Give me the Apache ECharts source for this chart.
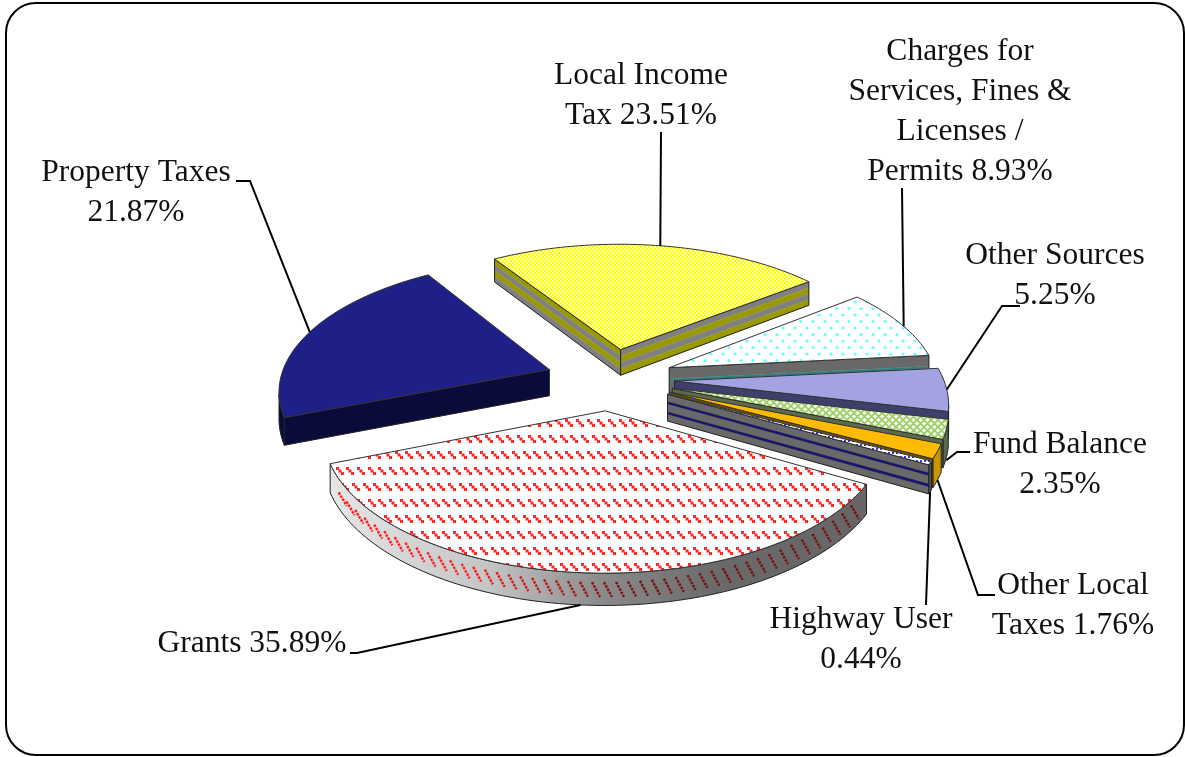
<!DOCTYPE html>
<html>
<head>
<meta charset="utf-8">
<style>html,body{margin:0;padding:0;background:#fff}#chart{width:1185px;height:757px}</style>
<script src="https://cdn.jsdelivr.net/npm/echarts@6/dist/echarts.min.js"></script>
</head>
<body>
<div id="chart"></div>
<script>
// Revenue shares, listed clockwise from Local Income Tax.
const sliceNames = ['Local Income Tax', 'Charges for Services, Fines & Licenses / Permits', 'Other Sources',
  'Fund Balance', 'Other Local Taxes', 'Highway User', 'Grants', 'Property Taxes'];
const sliceValues = [23.51, 8.93, 5.25, 2.35, 1.76, 0.44, 35.89, 21.87];
// Label wording ahead of each percentage; a newline breaks the line.
const labelPrefixes = ['Local Income\nTax ', 'Charges for\nServices, Fines &\nLicenses /\nPermits ', 'Other Sources\n',
  'Fund Balance\n', 'Other Local\nTaxes ', 'Highway User\n', 'Grants ', 'Property Taxes\n'];

// Tilted-disc projection
const view = { cx: 610, cy: 379, a: 269, b: 128.5, k: 0.145, explode: 0.24, depth: 26.5, startAngle: 237.5 };
const rad = d => d * Math.PI / 180;
function scaleAt(Z) { return 1 / (1 - view.k * Z); }
function project(X, Z) {
  const s = scaleAt(Z);
  return { x: view.cx + view.a * X * s, y: view.cy + view.b * Z * s, h: view.depth * s };
}
const total = sliceValues.reduce((p, v) => p + v, 0);
const sweeps = sliceValues.map(v => v / total * 360);
const startAngles = sweeps.map((_, i) => view.startAngle + sweeps.slice(0, i).reduce((p, v) => p + v, 0));

function sliceGeometry(i) {
  const t0 = startAngles[i], t1 = t0 + sweeps[i], mid = (t0 + t1) / 2;
  const ox = view.explode * Math.cos(rad(mid)), oz = view.explode * Math.sin(rad(mid));
  const at = t => project(ox + Math.cos(rad(t)), oz + Math.sin(rad(t)));
  const arc = [];
  const n = Math.max(2, Math.ceil(sweeps[i] / 1.5));
  for (let j = 0; j <= n; j++) arc.push(at(t0 + (t1 - t0) * j / n));
  return { apex: project(ox, oz), arc, at, mid };
}

// Fill textures
function tile(w, h, draw) {
  const c = document.createElement('canvas');
  c.width = w; c.height = h;
  draw(c.getContext('2d'));
  return { image: c, repeat: 'repeat' };
}
const checkerTile = tile(4, 4, g => {
  g.fillStyle = '#ffff00'; g.fillRect(0, 0, 4, 4);
  g.fillStyle = '#ffffb0'; g.fillRect(0, 0, 2, 2); g.fillRect(2, 2, 2, 2);
});
const cyanDotTile = tile(12, 13, g => {
  g.fillStyle = '#fff'; g.fillRect(0, 0, 12, 13);
  g.fillStyle = '#66ffff';
  [[3, 3], [9, 9.5]].forEach(p => { g.beginPath(); g.arc(p[0], p[1], 1.6, 0, 7); g.fill(); });
});
const greenHatchTile = tile(7, 7, g => {
  g.fillStyle = '#f2f8e8'; g.fillRect(0, 0, 7, 7);
  g.strokeStyle = '#9ccc66'; g.lineWidth = 1.6;
  g.beginPath();
  for (let o = -7; o <= 7; o += 7) { g.moveTo(o, 0); g.lineTo(o + 7, 7); g.moveTo(o + 7, 0); g.lineTo(o, 7); }
  g.stroke();
});
const blueDotTile = tile(4, 4, g => {
  g.fillStyle = '#fff'; g.fillRect(0, 0, 4, 4);
  g.fillStyle = '#3a3ad0'; g.fillRect(0, 0, 2, 2);
});
// Diagonal red dashes, each built from a few stepped dots
const redDashTile = tile(32, 32, g => {
  g.fillStyle = '#fdfdfd'; g.fillRect(0, 0, 32, 32);
  g.fillStyle = '#ff2828';
  [0, 1].forEach(row => {
    for (let c = -1; c < 4; c++) {
      const x0 = Math.round(c * 10.67 + row * 5), y0 = 3 + row * 16;
      for (let d = 0; d < 3; d++) g.fillRect(x0 + d * 2.5, y0 + d * 2.5, 3, 3);
    }
  });
});

const GRAY = '#808080', OLIVE = '#999900', STEEL = '#696969', NAVY = '#16166e', TEAL = '#2f7f7f';
const sliceStyles = [
  { top: checkerTile, arc: GRAY,
    startBands: [[0.25, OLIVE], [0.25, GRAY], [0.25, OLIVE], [0.25, GRAY]],
    endBands: [[0.25, GRAY], [0.25, OLIVE], [0.25, GRAY], [0.25, OLIVE]] },
  { top: cyanDotTile, arc: STEEL, endBands: [[0.42, STEEL], [0.09, TEAL], [0.49, STEEL]] },
  { top: '#a3a3e3', arc: '#3f3f6b', endBands: [[1, '#3f3f6b']] },
  { top: greenHatchTile, arc: '#5c6a4c', endBands: [[1, '#5c6a4c']] },
  { top: '#ffbb00', arc: '#c89600', endBands: [[1, '#6e5200']] },
  { top: blueDotTile, arc: '#555',
    endBands: [[0.28, STEEL], [0.1, NAVY], [0.28, STEEL], [0.1, NAVY], [0.24, STEEL]] },
  { top: redDashTile, shadedArc: true },
  { top: '#1f1f88', arc: '#0b0b3b', startBands: [[1, '#0b0b3b']] }
];

// Leader lines: text-side start, optional elbow, angle nudge along the rim, and how far down the rim it lands.
const LEADER = [
  { text: [661, 132], shift: 0.5, rim: 0 },
  { text: [902, 188], shift: 1.5, rim: 0 },
  { text: [1020, 306], elbow: [1002, 306], shift: 0, rim: 0 },
  { text: [970, 452], elbow: [957, 452], shift: 0, rim: 1.1 },
  { text: [995, 595], elbow: [978, 595], shift: 0, rim: 1 },
  { text: [926, 605], shift: 0, rim: 1 },
  { text: [350, 653], elbow: [357, 653], shift: 0, rim: 1 },
  { text: [236, 181], elbow: [250, 181], shift: 0, rim: 0 }
];
const LABEL = [
  { x: 641, y: 96 }, { x: 960, y: 112 }, { x: 1055, y: 276 }, { x: 1060, y: 465 },
  { x: 1073, y: 606 }, { x: 861, y: 640 }, { x: 252, y: 644 }, { x: 136, y: 193 }
];
const FONT = '31.5px "Liberation Serif", serif';

const poly = (points, style) => ({ type: 'polygon', silent: true, shape: { points }, style });
const line = (points, style) => ({ type: 'polyline', silent: true, shape: { points }, style: Object.assign({ fill: 'none' }, style) });

function bandFaces(p, q, bands) {
  const out = [];
  let f = 0;
  bands.forEach(b => {
    const g = f + b[0];
    out.push(poly([[p.x, p.y + p.h * f], [q.x, q.y + q.h * f], [q.x, q.y + q.h * g], [p.x, p.y + p.h * g]],
      { fill: b[1], stroke: b[1], lineWidth: 0.3 }));
    f = g;
  });
  out.push(poly([[p.x, p.y], [q.x, q.y], [q.x, q.y + q.h], [p.x, p.y + p.h]],
    { fill: 'none', stroke: '#222', lineWidth: 1 }));
  return out;
}

function mix(c1, c2, t) {
  const m = c1.map((v, i) => Math.round(v + (c2[i] - v) * t));
  return 'rgb(' + m.join(',') + ')';
}

function renderSlice(params, api) {
  const i = params.dataIndex;
  const geo = sliceGeometry(i), st = sliceStyles[i];
  const children = [];
  const { apex, arc } = geo;

  // Side walls facing the viewer only
  if (arc[0].x < apex.x && st.startBands) children.push(...bandFaces(apex, arc[0], st.startBands));

  const runs = [];
  let run = null;
  for (let j = 0; j < arc.length - 1; j++) {
    if (arc[j + 1].x < arc[j].x) { if (!run) { run = [arc[j]]; runs.push(run); } run.push(arc[j + 1]); }
    else run = null;
  }
  runs.forEach(r => {
    const wall = r.map(p => [p.x, p.y]).concat(r.slice().reverse().map(p => [p.x, p.y + p.h]));
    const fill = st.shadedArc ? {
      type: 'linear', x: 0, y: 0, x2: 1, y2: 0,
      colorStops: [{ offset: 0, color: '#e6e6e6' }, { offset: 0.3, color: '#c4c4c4' },
        { offset: 0.5, color: '#8c8c8c' }, { offset: 0.72, color: '#6a6a6a' }, { offset: 1, color: '#666' }]
    } : st.arc;
    children.push(poly(wall, { fill, stroke: '#222', lineWidth: 1 }));
    if (st.shadedArc) {
      const x0 = r[r.length - 1].x, x1 = r[0].x;
      let gap = 0;
      for (let j = r.length - 1; j > 0; j--) {
        const A = r[j], B = r[j - 1], len = Math.hypot(B.x - A.x, B.y - A.y);
        let d = 12 - gap;
        while (d < len) {
          const u = d / len, x = A.x + (B.x - A.x) * u, y = A.y + (B.y - A.y) * u, h = A.h;
          const c = mix([255, 30, 30], [120, 16, 16], Math.min(1, Math.max(0, ((x - x0) / (x1 - x0) - 0.25) / 0.3)));
          // Keep the marks inside the wall at both of its ends
          if (x > x0 + 6 && x < x1 - 7) {
            children.push(line([[x - 4, y + h * 0.28], [x + 4, y + h * 0.74]],
              { stroke: c, lineWidth: 2.4, lineDash: [2.6, 1.1] }));
          }
          d += 12;
        }
        gap = len - (d - 12);
      }
    }
  });

  const last = arc[arc.length - 1];
  if (apex.x < last.x && st.endBands) children.push(...bandFaces(last, apex, st.endBands));

  const topFace = [[apex.x, apex.y]].concat(arc.map(p => [p.x, p.y]));
  children.push(poly(topFace, { fill: st.top, stroke: '#333', lineWidth: 1 }));
  return { type: 'group', children };
}

function renderLabel(params, api) {
  const i = params.dataIndex;
  const geo = sliceGeometry(i), cfg = LEADER[i], spot = LABEL[i];
  const rim = geo.at(geo.mid + cfg.shift);
  const end = [rim.x, rim.y + rim.h * cfg.rim];
  const pts = [cfg.text].concat(cfg.elbow ? [cfg.elbow] : []).concat([end]);
  return {
    type: 'group',
    children: [
      line(pts, { stroke: '#000', lineWidth: 2 }),
      { type: 'text', silent: true, style: {
        text: labelPrefixes[i] + api.value(0).toFixed(2) + '%',
        x: spot.x, y: spot.y, align: 'center', verticalAlign: 'middle',
        font: FONT, lineHeight: 40, fill: '#111' } }
    ]
  };
}

const pieData = sliceValues.map((v, i) => ({ name: sliceNames[i], value: [v] }));
const chart = echarts.init(document.getElementById('chart'));
chart.setOption({
  animation: false,
  backgroundColor: '#fff',
  graphic: [{
    type: 'rect', silent: true,
    shape: { x: 6, y: 3, width: 1178, height: 752, r: 30 },
    style: { fill: 'none', stroke: '#000', lineWidth: 2 }
  }],
  series: [
    { type: 'custom', coordinateSystem: 'none', data: pieData, renderItem: renderSlice, clip: false, z: 2 },
    { type: 'custom', coordinateSystem: 'none', data: pieData, renderItem: renderLabel, clip: false, z: 3 }
  ]
});
</script>
</body>
</html>
